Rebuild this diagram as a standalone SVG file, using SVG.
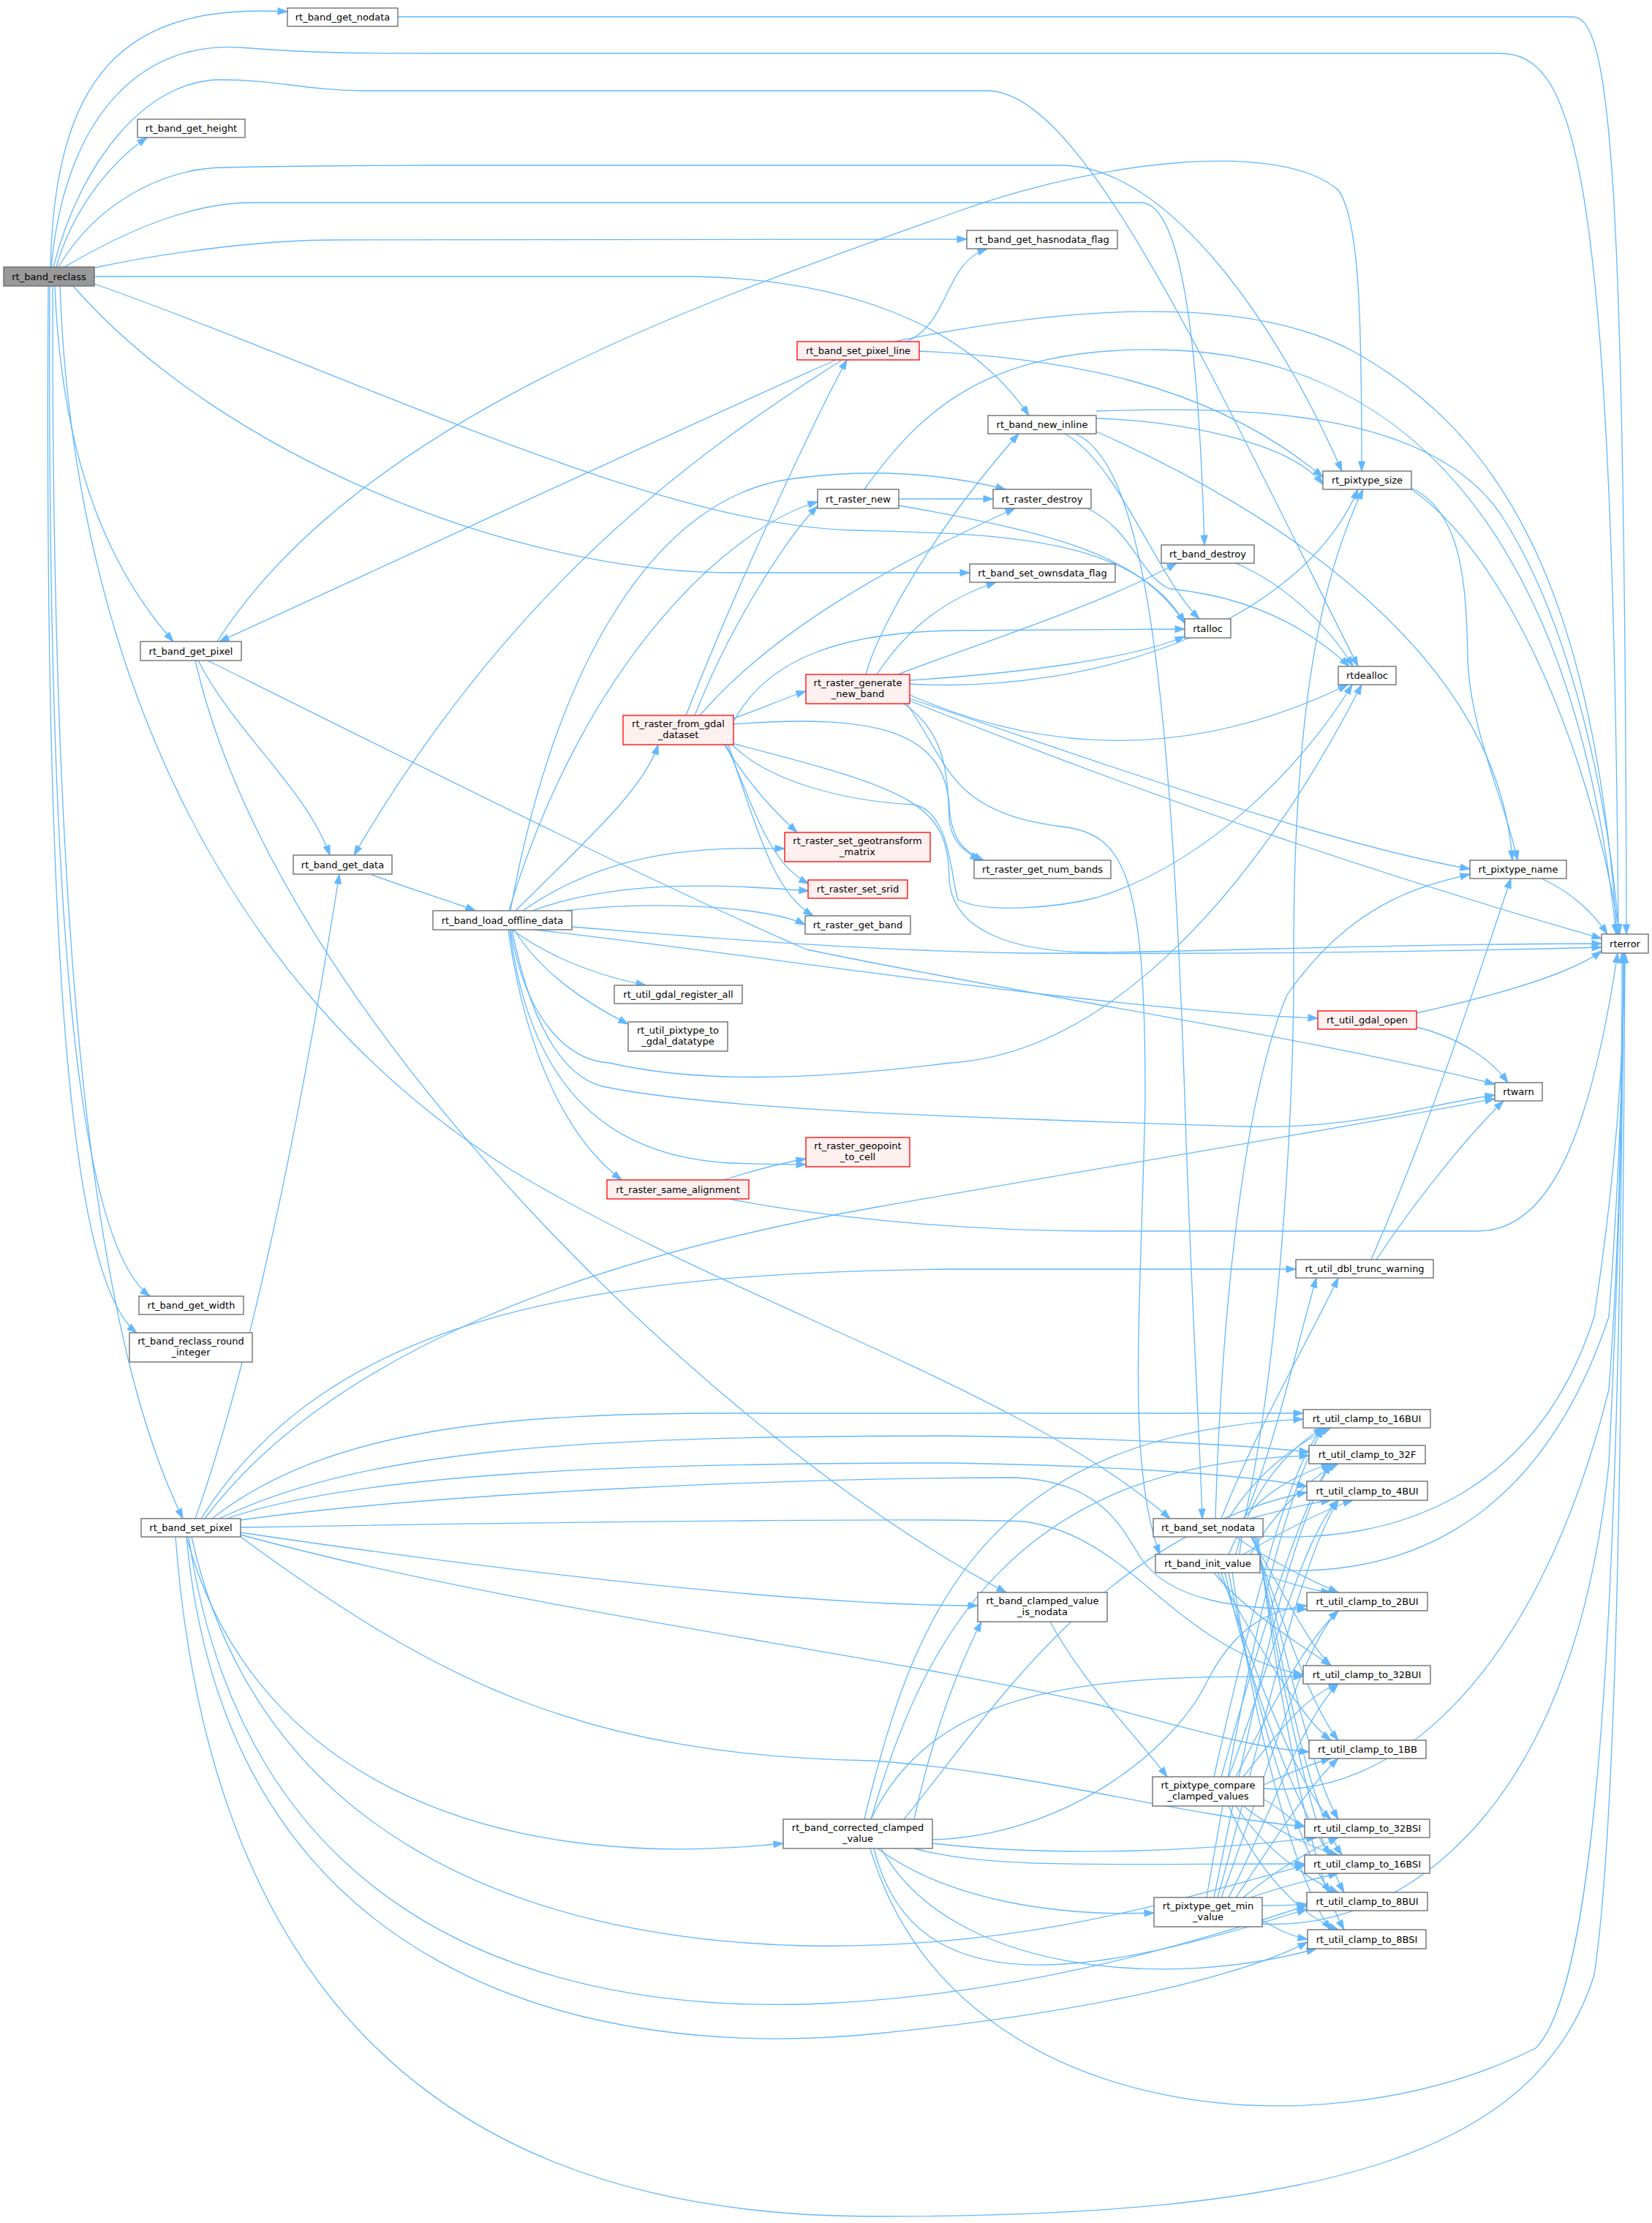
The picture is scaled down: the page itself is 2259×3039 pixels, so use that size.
<svg xmlns="http://www.w3.org/2000/svg" width="2259" height="3039" viewBox="0 0 2259 3039">
<defs>
<marker id="ah" markerUnits="userSpaceOnUse" markerWidth="14" markerHeight="10" refX="13" refY="4.5" orient="auto" overflow="visible"><path d="M0,0 L13,4.5 L0,9 z" fill="#63b8ff" stroke="#63b8ff" stroke-width="1"/></marker>
<style>
.e{fill:none;stroke:#63b8ff;stroke-width:1.3;marker-end:url(#ah)}
.n rect{fill:#fff;stroke:#666;stroke-width:1.3}
.n.r rect{fill:#fff0f0;stroke:#f00}
.n.g rect{fill:#999}
.n text{font-family:"DejaVu Sans","Liberation Sans",sans-serif;font-size:13px;text-anchor:middle;fill:#000}
</style>
</defs>
<rect width="2259" height="3039" fill="#fff"/>
<g id="edges">
<path class="e" d="M69,365 C75,80 190,5 393,16"/>
<path class="e" d="M70,365 C90,150 200,55 330,65 C430,73 500,73 600,73 L2050,73 C2150,73 2205,200 2213,1277"/>
<path class="e" d="M73,365 C110,220 200,110 300,109 C380,109 420,124 500,124 L1350,124 C1480,124 1650,500 1857,911"/>
<path class="e" d="M80,365 C130,280 220,230 306,229 C400,227 450,226 600,226 L1450,226 C1600,226 1750,450 1835,644"/>
<path class="e" d="M88,365 C170,317 260,277 344,277 L1560,277 C1620,277 1640,500 1647,745"/>
<path class="e" d="M129,366 C250,340 380,328 459,328 L1322,327"/>
<path class="e" d="M129,378 L950,378 C1150,382 1320,440 1407,568"/>
<path class="e" d="M129,388 C500,520 900,720 1170,725 C1350,730 1550,730 1620,852"/>
<path class="e" d="M100,391 C300,620 700,783 1000,783 L1326,783"/>
<path class="e" d="M82,391 C100,900 300,1350 700,1600 C1000,1780 1400,1900 1600,2076"/>
<path class="e" d="M75,391 C85,650 160,790 237,877"/>
<path class="e" d="M77,365 C95,300 140,230 201,188"/>
<path class="e" d="M68,391 C64,1300 110,1700 205,1772"/>
<path class="e" d="M66,391 C60,1300 95,1750 187,1822"/>
<path class="e" d="M72,391 C70,1400 140,1850 250,2076"/>
<path class="e" d="M544,23 L2150,23 C2200,23 2222,200 2224,1277"/>
<path class="e" d="M297,877 C500,560 1000,400 1307,290 C1500,220 1750,190 1830,260 C1860,300 1862,450 1862,644"/>
<path class="e" d="M271,903 C320,1000 420,1080 451,1169"/>
<path class="e" d="M267,903 C380,1400 1000,1980 1376,2177"/>
<path class="e" d="M284,903 C600,1060 900,1210 1103,1298 C1400,1360 1800,1420 2044,1482"/>
<path class="e" d="M1240,467 C1300,440 1290,360 1350,340"/>
<path class="e" d="M1223,467 C1450,420 1700,400 1850,480 C2050,590 2180,800 2211,1277"/>
<path class="e" d="M1257,480 C1450,490 1650,520 1809,652"/>
<path class="e" d="M1143,492 C900,600 600,740 300,877"/>
<path class="e" d="M1150,493 C950,620 700,800 484,1169"/>
<path class="e" d="M1499,562 C1700,555 1950,560 2050,700 C2150,850 2200,1100 2214,1277"/>
<path class="e" d="M1456,593 C1530,634 1580,786 1640,846"/>
<path class="e" d="M1499,590 C1750,700 2050,900 2068,1176"/>
<path class="e" d="M1470,593 C1560,630 1600,900 1620,1500 C1630,1800 1640,1950 1644,2076"/>
<path class="e" d="M1499,572 C1600,575 1760,600 1809,662"/>
<path class="e" d="M1229,682 L1358,682"/>
<path class="e" d="M1229,691 C1450,730 1560,760 1620,852"/>
<path class="e" d="M1182,669 C1260,560 1350,476 1580,478 C1900,480 2150,700 2210,1277"/>
<path class="e" d="M1487,695 C1550,725 1560,790 1600,805 C1700,815 1780,850 1845,911"/>
<path class="e" d="M1690,770 C1760,800 1820,860 1850,911"/>
<path class="e" d="M1930,667 C2000,700 2005,800 2007,900 C2010,1000 2060,1100 2075,1176"/>
<path class="e" d="M1930,669 C2050,750 2170,1000 2215,1277"/>
<path class="e" d="M2108,1201 C2150,1220 2180,1250 2198,1277"/>
<path class="e" d="M938,978 C1000,820 1100,600 1158,492"/>
<path class="e" d="M950,978 C1000,850 1080,730 1118,692"/>
<path class="e" d="M957,978 C1050,870 1200,780 1388,695"/>
<path class="e" d="M1003,982 C1040,970 1070,955 1102,945"/>
<path class="e" d="M1004,985 C1050,900 1150,865 1300,862 L1620,860"/>
<path class="e" d="M1003,990 C1200,975 1290,1000 1298,1100 C1300,1150 1320,1165 1345,1176"/>
<path class="e" d="M1004,1017 C1250,1080 1296,1100 1298,1200 C1300,1270 1380,1302 1500,1302 C1700,1300 1900,1290 2190,1290"/>
<path class="e" d="M990,1018 C1030,1080 1060,1110 1090,1138"/>
<path class="e" d="M993,1018 C1030,1100 1050,1180 1106,1208"/>
<path class="e" d="M996,1018 C1040,1150 1060,1220 1112,1252"/>
<path class="e" d="M1001,1018 C1050,1067 1150,1095 1250,1100 C1300,1110 1300,1200 1310,1230 C1350,1250 1450,1240 1500,1227 C1650,1180 1780,1050 1849,936"/>
<path class="e" d="M1184,922 C1200,860 1280,720 1393,593"/>
<path class="e" d="M1199,922 C1240,860 1290,820 1362,796"/>
<path class="e" d="M1228,922 C1300,893 1500,830 1609,770"/>
<path class="e" d="M1244,935 C1500,950 1780,850 1857,669"/>
<path class="e" d="M1244,930 C1400,920 1550,900 1620,870"/>
<path class="e" d="M1236,962 C1290,1000 1296,1050 1298,1120 C1300,1150 1320,1165 1340,1176"/>
<path class="e" d="M1240,962 C1300,1050 1300,1110 1452,1130 C1540,1140 1566,1200 1566,1500 C1560,1800 1540,2000 1586,2125"/>
<path class="e" d="M1244,955 C1500,1040 1800,1150 2010,1188"/>
<path class="e" d="M1244,958 C1600,1100 1900,1200 2190,1283"/>
<path class="e" d="M1244,950 C1450,1040 1650,1030 1843,936"/>
<path class="e" d="M506,1195 C560,1215 610,1230 650,1245"/>
<path class="e" d="M696,1245 C800,900 1000,720 1118,686"/>
<path class="e" d="M698,1245 C760,900 900,680 1080,655 C1200,638 1300,650 1375,669"/>
<path class="e" d="M705,1245 C800,1150 880,1080 900,1018"/>
<path class="e" d="M715,1245 C850,1150 1000,1160 1073,1160"/>
<path class="e" d="M728,1245 C850,1200 1000,1210 1106,1218"/>
<path class="e" d="M773,1245 C900,1230 1050,1240 1101,1264"/>
<path class="e" d="M782,1267 C1000,1285 1200,1300 1400,1303 C1700,1305 2000,1300 2190,1295"/>
<path class="e" d="M700,1271 C740,1300 800,1330 883,1347"/>
<path class="e" d="M703,1271 C740,1330 800,1370 859,1400"/>
<path class="e" d="M730,1271 C1000,1300 1500,1380 1802,1392"/>
<path class="e" d="M700,1271 C730,1420 780,1480 833,1487 C1000,1520 1400,1530 1700,1540 C1850,1545 1950,1510 2044,1497"/>
<path class="e" d="M698,1271 C720,1400 780,1450 833,1453 C950,1480 1100,1478 1300,1453 C1500,1440 1700,1250 1862,936"/>
<path class="e" d="M697,1271 C720,1450 800,1580 1000,1590 C1050,1592 1080,1592 1102,1592"/>
<path class="e" d="M695,1271 C720,1450 780,1560 850,1613"/>
<path class="e" d="M1937,1385 C2050,1360 2150,1330 2190,1300"/>
<path class="e" d="M1937,1404 C2000,1420 2040,1450 2062,1480"/>
<path class="e" d="M990,1613 C1030,1600 1070,1590 1102,1584"/>
<path class="e" d="M997,1639 C1100,1660 1300,1683 1500,1683 L2021,1683 C2120,1683 2175,1550 2212,1303"/>
<path class="e" d="M1882,1722 C1950,1620 2020,1540 2056,1505"/>
<path class="e" d="M1875,1722 C1950,1550 2000,1400 2066,1201"/>
<path class="e" d="M267,2076 C330,1900 400,1600 464,1195"/>
<path class="e" d="M280,2076 C450,1850 800,1720 1200,1650 C1600,1580 1850,1540 2044,1502"/>
<path class="e" d="M275,2076 C450,1800 800,1740 1300,1735 L1772,1735"/>
<path class="e" d="M290,2076 C450,1950 700,1932 1000,1932 L1782,1932"/>
<path class="e" d="M300,2076 C500,1980 800,1963 1300,1963 C1500,1965 1700,1975 1790,1985"/>
<path class="e" d="M310,2076 C500,2010 900,2000 1300,2000 C1500,2003 1700,2015 1787,2032"/>
<path class="e" d="M255,2101 C350,2450 700,2560 1071,2520"/>
<path class="e" d="M329,2095 C700,2150 1100,2195 1337,2195"/>
<path class="e" d="M240,2101 C300,2900 800,3030 1200,3030 C1800,3030 2100,2950 2180,2700 C2210,2500 2218,2000 2222,1303"/>
<path class="e" d="M329,2088 C800,2080 1300,2075 1400,2080 C1550,2100 1600,2250 1782,2290"/>
<path class="e" d="M329,2078 C600,2040 1100,2020 1389,2020 C1500,2025 1530,2080 1560,2130 C1600,2190 1700,2200 1787,2200"/>
<path class="e" d="M329,2101 C600,2300 800,2400 1191,2407 C1400,2420 1600,2480 1784,2497"/>
<path class="e" d="M329,2098 C700,2200 1200,2260 1500,2330 C1650,2370 1720,2390 1790,2395"/>
<path class="e" d="M262,2101 C350,2500 700,2650 1100,2660 C1400,2665 1600,2600 1784,2550"/>
<path class="e" d="M258,2101 C330,2600 700,2750 1100,2740 C1400,2730 1650,2650 1787,2605"/>
<path class="e" d="M255,2101 C310,2700 800,2820 1200,2780 C1500,2750 1700,2700 1788,2655"/>
<path class="e" d="M1662,2076 C1670,1800 1700,1500 1760,1360 C1850,1230 1950,1210 2010,1195"/>
<path class="e" d="M1670,2076 C1720,1950 1780,1850 1830,1747"/>
<path class="e" d="M1680,2076 C1720,2010 1780,1970 1820,1952"/>
<path class="e" d="M1709,2076 C1750,2065 1790,2055 1820,2051"/>
<path class="e" d="M1727,2100 C1900,2110 2100,2050 2180,1800 C2210,1600 2220,1450 2222,1303"/>
<path class="e" d="M1700,2076 C1740,2030 1790,2010 1820,2001"/>
<path class="e" d="M1690,2101 C1730,2130 1790,2160 1830,2177"/>
<path class="e" d="M1710,2101 C1740,2150 1790,2250 1820,2277"/>
<path class="e" d="M1712,2101 C1750,2200 1790,2330 1830,2379"/>
<path class="e" d="M1714,2101 C1760,2250 1790,2420 1830,2487"/>
<path class="e" d="M1716,2101 C1760,2300 1790,2470 1835,2536"/>
<path class="e" d="M1718,2101 C1760,2350 1800,2520 1838,2587"/>
<path class="e" d="M1720,2101 C1760,2400 1800,2570 1838,2638"/>
<path class="e" d="M1690,2125 C1750,1900 1770,1500 1769,1320 C1768,1000 1800,800 1864,669"/>
<path class="e" d="M1680,2125 C1740,2000 1770,1850 1800,1747"/>
<path class="e" d="M1700,2125 C1760,2090 1820,2060 1850,2051"/>
<path class="e" d="M1710,2125 C1740,2070 1790,2020 1830,2001"/>
<path class="e" d="M1695,2125 C1700,2050 1760,1980 1810,1952"/>
<path class="e" d="M1723,2145 C1900,2160 2100,2100 2200,1800 C2215,1600 2220,1450 2220,1303"/>
<path class="e" d="M1723,2150 C1760,2165 1800,2175 1820,2177"/>
<path class="e" d="M1660,2150 C1700,2200 1780,2250 1820,2277"/>
<path class="e" d="M1665,2150 C1720,2250 1780,2350 1820,2379"/>
<path class="e" d="M1670,2150 C1720,2300 1780,2450 1820,2487"/>
<path class="e" d="M1675,2150 C1720,2350 1790,2500 1820,2536"/>
<path class="e" d="M1680,2150 C1730,2400 1790,2550 1820,2587"/>
<path class="e" d="M1685,2150 C1730,2450 1790,2600 1820,2638"/>
<path class="e" d="M1436,2217 C1480,2300 1560,2380 1596,2429"/>
<path class="e" d="M1660,2429 C1700,2250 1760,2000 1810,1952"/>
<path class="e" d="M1670,2429 C1720,2250 1780,2050 1820,2001"/>
<path class="e" d="M1680,2429 C1730,2300 1780,2100 1830,2051"/>
<path class="e" d="M1690,2429 C1730,2350 1780,2250 1830,2202"/>
<path class="e" d="M1700,2429 C1740,2380 1780,2320 1830,2302"/>
<path class="e" d="M1728,2440 C1760,2425 1790,2412 1820,2404"/>
<path class="e" d="M1728,2460 C1750,2470 1765,2490 1784,2497"/>
<path class="e" d="M1700,2469 C1740,2500 1790,2525 1830,2536"/>
<path class="e" d="M1690,2469 C1730,2530 1790,2570 1830,2587"/>
<path class="e" d="M1680,2469 C1720,2560 1780,2620 1830,2638"/>
<path class="e" d="M1728,2445 C1900,2460 2100,2300 2200,1900 C2215,1700 2218,1500 2218,1303"/>
<path class="e" d="M1250,2487 C1280,2350 1320,2260 1342,2217"/>
<path class="e" d="M1200,2527 C1300,2600 1450,2620 1578,2615"/>
<path class="e" d="M1275,2520 C1450,2540 1650,2530 1800,2512"/>
<path class="e" d="M1250,2527 C1350,2555 1500,2548 1784,2548"/>
<path class="e" d="M1182,2487 C1250,2200 1350,1960 1782,1940"/>
<path class="e" d="M1191,2487 C1260,2250 1380,2000 1790,1990"/>
<path class="e" d="M1236,2487 C1350,2350 1500,2100 1787,2040"/>
<path class="e" d="M1275,2515 C1450,2510 1600,2400 1650,2300 C1690,2220 1740,2200 1787,2195"/>
<path class="e" d="M1195,2527 C1250,2750 1500,2700 1787,2610"/>
<path class="e" d="M1205,2527 C1300,2700 1600,2720 1800,2664"/>
<path class="e" d="M1190,2527 C1300,2900 1800,2950 2100,2800 C2200,2700 2215,2000 2220,1303"/>
<path class="e" d="M1191,2487 C1280,2300 1500,2290 1782,2292"/>
<path class="e" d="M1650,2594 C1700,2300 1750,2050 1810,1952"/>
<path class="e" d="M1660,2594 C1710,2350 1760,2100 1820,2001"/>
<path class="e" d="M1665,2594 C1720,2400 1770,2150 1830,2051"/>
<path class="e" d="M1670,2594 C1725,2450 1780,2250 1830,2202"/>
<path class="e" d="M1680,2594 C1730,2500 1780,2350 1830,2302"/>
<path class="e" d="M1690,2594 C1740,2520 1790,2440 1830,2404"/>
<path class="e" d="M1700,2594 C1740,2560 1790,2530 1830,2512"/>
<path class="e" d="M1710,2594 C1750,2580 1790,2570 1830,2561"/>
<path class="e" d="M1726,2605 C1750,2605 1770,2605 1787,2603"/>
<path class="e" d="M1726,2625 C1750,2640 1770,2648 1788,2651"/>
<path class="e" d="M1726,2630 C1900,2640 2150,2500 2200,2000 C2215,1700 2220,1450 2220,1303"/>
</g>
<g id="n_rt_band_reclass" class="n g"><rect x="5" y="365" width="124" height="26"/><text x="67" y="382.5">rt_band_reclass</text></g>
<g id="n_rt_band_get_nodata" class="n"><rect x="393" y="11" width="151" height="25"/><text x="468.5" y="28">rt_band_get_nodata</text></g>
<g id="n_rt_band_get_height" class="n"><rect x="188" y="163" width="147" height="25"/><text x="261.5" y="180">rt_band_get_height</text></g>
<g id="n_rt_band_get_hasnodata_flag" class="n"><rect x="1322" y="315" width="206" height="25"/><text x="1425" y="332">rt_band_get_hasnodata_flag</text></g>
<g id="n_rt_band_set_pixel_line" class="n r"><rect x="1090" y="467" width="167" height="25"/><text x="1173.5" y="484">rt_band_set_pixel_line</text></g>
<g id="n_rt_band_new_inline" class="n"><rect x="1351" y="568" width="148" height="25"/><text x="1425" y="585">rt_band_new_inline</text></g>
<g id="n_rt_raster_new" class="n"><rect x="1118" y="669" width="111" height="26"/><text x="1173.5" y="686.5">rt_raster_new</text></g>
<g id="n_rt_raster_destroy" class="n"><rect x="1358" y="669" width="134" height="26"/><text x="1425" y="686.5">rt_raster_destroy</text></g>
<g id="n_rt_band_set_ownsdata_flag" class="n"><rect x="1326" y="771" width="199" height="25"/><text x="1425.5" y="788">rt_band_set_ownsdata_flag</text></g>
<g id="n_rt_pixtype_size" class="n"><rect x="1809" y="644" width="121" height="25"/><text x="1869.5" y="661">rt_pixtype_size</text></g>
<g id="n_rt_band_destroy" class="n"><rect x="1588" y="745" width="127" height="25"/><text x="1651.5" y="762">rt_band_destroy</text></g>
<g id="n_rtalloc" class="n"><rect x="1620" y="846" width="63" height="26"/><text x="1651.5" y="863.5">rtalloc</text></g>
<g id="n_rtdealloc" class="n"><rect x="1830" y="911" width="79" height="25"/><text x="1869.5" y="928">rtdealloc</text></g>
<g id="n_rt_pixtype_name" class="n"><rect x="2010" y="1176" width="132" height="25"/><text x="2076" y="1193">rt_pixtype_name</text></g>
<g id="n_rterror" class="n"><rect x="2190" y="1277" width="64" height="26"/><text x="2222" y="1294.5">rterror</text></g>
<g id="n_rt_band_get_pixel" class="n"><rect x="192" y="877" width="138" height="26"/><text x="261" y="894.5">rt_band_get_pixel</text></g>
<g id="n_rt_raster_from_gdal_dataset" class="n r"><rect x="852" y="978" width="151" height="40"/><text x="927.5" y="994">rt_raster_from_gdal</text><text x="927.5" y="1009">_dataset</text></g>
<g id="n_rt_raster_generate_new_band" class="n r"><rect x="1102" y="922" width="142" height="40"/><text x="1173" y="938">rt_raster_generate</text><text x="1173" y="953">_new_band</text></g>
<g id="n_rt_raster_set_geotransform_matrix" class="n r"><rect x="1073" y="1138" width="199" height="40"/><text x="1172.5" y="1154">rt_raster_set_geotransform</text><text x="1172.5" y="1169">_matrix</text></g>
<g id="n_rt_raster_get_num_bands" class="n"><rect x="1332" y="1176" width="187" height="25"/><text x="1425.5" y="1193">rt_raster_get_num_bands</text></g>
<g id="n_rt_band_get_data" class="n"><rect x="401" y="1169" width="135" height="26"/><text x="468.5" y="1186.5">rt_band_get_data</text></g>
<g id="n_rt_raster_set_srid" class="n r"><rect x="1105" y="1203" width="136" height="25"/><text x="1173" y="1220">rt_raster_set_srid</text></g>
<g id="n_rt_band_load_offline_data" class="n"><rect x="592" y="1245" width="190" height="26"/><text x="687" y="1262.5">rt_band_load_offline_data</text></g>
<g id="n_rt_raster_get_band" class="n"><rect x="1101" y="1252" width="144" height="25"/><text x="1173" y="1269">rt_raster_get_band</text></g>
<g id="n_rt_util_gdal_register_all" class="n"><rect x="840" y="1347" width="175" height="25"/><text x="927.5" y="1364">rt_util_gdal_register_all</text></g>
<g id="n_rt_util_pixtype_to_gdal_datatype" class="n"><rect x="859" y="1397" width="136" height="40"/><text x="927" y="1413">rt_util_pixtype_to</text><text x="927" y="1428">_gdal_datatype</text></g>
<g id="n_rt_util_gdal_open" class="n r"><rect x="1802" y="1382" width="135" height="25"/><text x="1869.5" y="1399">rt_util_gdal_open</text></g>
<g id="n_rtwarn" class="n"><rect x="2044" y="1480" width="65" height="25"/><text x="2076.5" y="1497">rtwarn</text></g>
<g id="n_rt_raster_geopoint_to_cell" class="n r"><rect x="1102" y="1555" width="142" height="40"/><text x="1173" y="1571">rt_raster_geopoint</text><text x="1173" y="1586">_to_cell</text></g>
<g id="n_rt_raster_same_alignment" class="n r"><rect x="830" y="1613" width="194" height="26"/><text x="927" y="1630.5">rt_raster_same_alignment</text></g>
<g id="n_rt_util_dbl_trunc_warning" class="n"><rect x="1772" y="1722" width="188" height="25"/><text x="1866" y="1739">rt_util_dbl_trunc_warning</text></g>
<g id="n_rt_band_get_width" class="n"><rect x="190" y="1772" width="143" height="25"/><text x="261.5" y="1789">rt_band_get_width</text></g>
<g id="n_rt_band_reclass_round_integer" class="n"><rect x="177" y="1822" width="168" height="40"/><text x="261" y="1838">rt_band_reclass_round</text><text x="261" y="1853">_integer</text></g>
<g id="n_rt_util_clamp_to_16BUI" class="n"><rect x="1782" y="1927" width="174" height="25"/><text x="1869" y="1944">rt_util_clamp_to_16BUI</text></g>
<g id="n_rt_util_clamp_to_32F" class="n"><rect x="1790" y="1976" width="159" height="25"/><text x="1869.5" y="1993">rt_util_clamp_to_32F</text></g>
<g id="n_rt_util_clamp_to_4BUI" class="n"><rect x="1787" y="2025" width="165" height="26"/><text x="1869.5" y="2042.5">rt_util_clamp_to_4BUI</text></g>
<g id="n_rt_band_set_nodata" class="n"><rect x="1577" y="2076" width="150" height="25"/><text x="1652" y="2093">rt_band_set_nodata</text></g>
<g id="n_rt_band_set_pixel" class="n"><rect x="193" y="2076" width="136" height="25"/><text x="261" y="2093">rt_band_set_pixel</text></g>
<g id="n_rt_band_init_value" class="n"><rect x="1580" y="2125" width="143" height="25"/><text x="1651.5" y="2142">rt_band_init_value</text></g>
<g id="n_rt_band_clamped_value_is_nodata" class="n"><rect x="1337" y="2177" width="177" height="40"/><text x="1425.5" y="2193">rt_band_clamped_value</text><text x="1425.5" y="2208">_is_nodata</text></g>
<g id="n_rt_util_clamp_to_2BUI" class="n"><rect x="1787" y="2177" width="165" height="25"/><text x="1869.5" y="2194">rt_util_clamp_to_2BUI</text></g>
<g id="n_rt_util_clamp_to_32BUI" class="n"><rect x="1782" y="2277" width="174" height="25"/><text x="1869" y="2294">rt_util_clamp_to_32BUI</text></g>
<g id="n_rt_util_clamp_to_1BB" class="n"><rect x="1790" y="2379" width="160" height="25"/><text x="1870" y="2396">rt_util_clamp_to_1BB</text></g>
<g id="n_rt_pixtype_compare_clamped_values" class="n"><rect x="1576" y="2429" width="152" height="40"/><text x="1652" y="2445">rt_pixtype_compare</text><text x="1652" y="2460">_clamped_values</text></g>
<g id="n_rt_util_clamp_to_32BSI" class="n"><rect x="1784" y="2487" width="171" height="25"/><text x="1869.5" y="2504">rt_util_clamp_to_32BSI</text></g>
<g id="n_rt_band_corrected_clamped_value" class="n"><rect x="1071" y="2487" width="204" height="40"/><text x="1173" y="2503">rt_band_corrected_clamped</text><text x="1173" y="2518">_value</text></g>
<g id="n_rt_util_clamp_to_16BSI" class="n"><rect x="1784" y="2536" width="171" height="25"/><text x="1869.5" y="2553">rt_util_clamp_to_16BSI</text></g>
<g id="n_rt_util_clamp_to_8BUI" class="n"><rect x="1787" y="2587" width="165" height="25"/><text x="1869.5" y="2604">rt_util_clamp_to_8BUI</text></g>
<g id="n_rt_util_clamp_to_8BSI" class="n"><rect x="1788" y="2638" width="162" height="26"/><text x="1869" y="2655.5">rt_util_clamp_to_8BSI</text></g>
<g id="n_rt_pixtype_get_min_value" class="n"><rect x="1578" y="2594" width="148" height="40"/><text x="1652" y="2610">rt_pixtype_get_min</text><text x="1652" y="2625">_value</text></g>
</svg>
